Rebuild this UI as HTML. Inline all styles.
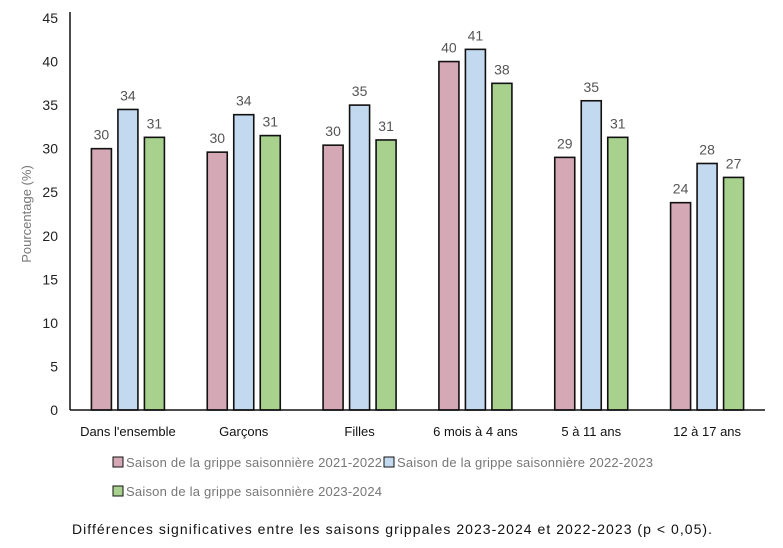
<!DOCTYPE html>
<html><head><meta charset="utf-8"><style>
body{margin:0;background:#fff;width:783px;height:543px;overflow:hidden;font-family:"Liberation Sans",sans-serif}
</style></head><body>
<svg id="c" width="783" height="543" font-family="Liberation Sans, sans-serif"></svg>
<script>
const categories=["Dans l'ensemble","Garçons","Filles","6 mois à 4 ans","5 à 11 ans","12 à 17 ans"];
const s2122=[30,29.6,30.4,40,29,23.8];
const s2223=[34.5,33.9,35,41.4,35.5,28.3];
const s2324=[31.3,31.5,31,37.5,31.3,26.7];
const labels2122=["30","30","30","40","29","24"];
const labels2223=["34","34","35","41","35","28"];
const labels2324=["31","31","31","38","31","27"];
const yTicks=[0,5,10,15,20,25,30,35,40,45];
const NS="http://www.w3.org/2000/svg",svg=document.getElementById('c');
const x0=70,x1=765,y0=410,y45=18;
const y=v=>y0-(v/45)*(y0-y45);
const gw=(x1-x0)/categories.length;
const gc=i=>x0+gw*(i+0.5);
function mk(t,a,txt){const e=document.createElementNS(NS,t);for(const k in a)e.setAttribute(k,a[k]);if(txt!=null)e.textContent=txt;svg.appendChild(e);return e;}
yTicks.forEach(v=>{const t=mk('text',{x:58,y:y(v)+5,'text-anchor':'end','font-size':14,fill:'#222'},v);

});
const yl=mk('text',{x:0,y:0,transform:'translate(31,214) rotate(-90)','text-anchor':'middle','font-size':13,fill:'#777'},'Pourcentage (%)');


const series=[[s2122,labels2122,'#d5a8b5','2122'],[s2223,labels2223,'#c3d9ef','2223'],[s2324,labels2324,'#a9d18e','2324']];
categories.forEach((c,i)=>{
 series.forEach((s,j)=>{
  const cx=gc(i)+(j-1)*26.5, v=s[0][i];
  const r=mk('rect',{x:cx-10,y:y(v),width:20,height:y0-y(v),fill:s[2],stroke:'#111','stroke-width':1.6});
  
  
  const t=mk('text',{x:cx,y:y(v)-9,'text-anchor':'middle','font-size':14,fill:'#555'},s[1][i]);
  
  
 });
 const t=mk('text',{x:gc(i),y:436,'text-anchor':'middle','font-size':13,fill:'#111'},c);
 
 
});
const ax=mk('line',{x1:x0,y1:12,x2:x0,y2:y0,stroke:'#111','stroke-width':1.5});


const bx=mk('line',{x1:x0,y1:y0,x2:x1,y2:y0,stroke:'#111','stroke-width':1.5});


const leg=[[113,467,'#d5a8b5','Saison de la grippe saisonnière 2021-2022'],[384,467,'#c3d9ef','Saison de la grippe saisonnière 2022-2023'],[113,496,'#a9d18e','Saison de la grippe saisonnière 2023-2024']];
leg.forEach(l=>{
 const r=mk('rect',{x:l[0],y:l[1]-10,width:10,height:10,fill:l[2],stroke:'#111','stroke-width':1});
 
 
 const t=mk('text',{x:l[0]+13,y:l[1],'font-size':13,fill:'#777',textLength:256},l[3]);
 
 
});
const n=mk('text',{x:72,y:534,'font-size':14,fill:'#111',textLength:640},'Différences significatives entre les saisons grippales 2023-2024 et 2022-2023 (p < 0,05).');


</script>
</body></html>
